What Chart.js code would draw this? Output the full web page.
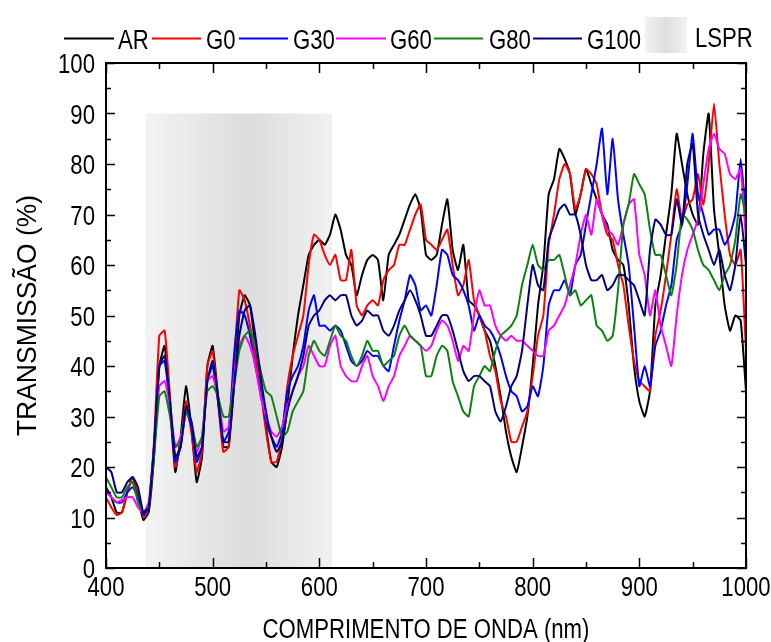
<!DOCTYPE html>
<html>
<head>
<meta charset="utf-8">
<title>Transmissão</title>
<script src="https://cdn.jsdelivr.net/npm/chart.js@4.4.1/dist/chart.umd.min.js"></script>
<style>
  html, body { margin: 0; padding: 0; background: #fff; }
  canvas { display: block; }
</style>
</head>
<body>
<canvas id="chart" width="771" height="642"></canvas>
<script>
// wavelengths (nm), one sample every 5 nm
const wavelength = [
  400,405,410,415,420,425,430,435,440,445,450,455,460,465,470,475,480,485,490,495,
  500,505,510,515,520,525,530,535,540,545,550,555,560,565,570,575,580,585,590,595,
  600,605,610,615,620,625,630,635,640,645,650,655,660,665,670,675,680,685,690,695,
  700,705,710,715,720,725,730,735,740,745,750,755,760,765,770,775,780,785,790,795,
  800,805,810,815,820,825,830,835,840,845,850,855,860,865,870,875,880,885,890,895,
  900,905,910,915,920,925,930,935,940,945,950,955,960,965,970,975,980,985,990,995,
  1000
];

// transmission (%)
const arT = [
  16,14,11,11,15,18,14,9.5,11,22, 40,44,32,19,26,36,28,17,22,40,
  44,34,24,24,36,50,54,52,44,36, 28,21,20,24,32,42,50,56,62,64,
  65,64,66,70,67,62,60,54,58,61, 62,61,53,62,64,66,69,72,74,71,
  62,61,62,68,73,63,59,64,53,52, 50,47,45,40,34,27,22,19,24,30,
  40,52,60,74,77,83,81,78,70,74, 79,76,73,70,68,63,61,60,52,40,
  33,30,35,52,58,66,74,86,80,74, 70,68,82,90,71,62,52,47,50,49,
  35
];
const g0T = [
  14,12,10.5,11,15,18,15,10,12,25, 46,47,34,20,25,33,27,19,23,40,
  43,33,23,24,40,55,53,48,42,35, 27,21,21,26,36,42,46,50,60,66,
  65,62,60,62,57,57,63,52,50,52, 53,52,57,59,60,64,64,67,70,72,
  65,64,63,65,67,60,54,56,61,53, 50,47,42,39,33,30,25,25,28,31,
  38,46,50,64,70,77,80,78,71,74, 79,78,76,70,66,65,60,56,48,41,
  37,36,35,46,51,58,66,75,69,72, 73,78,72,80,92,80,70,62,60,63,
  43
];
const g30T = [
  16,14,13,13,15,16,14,10.5,12,24, 40,41,32,21,24,31,28,21,24,37,
  40,33,25,27,42,51,50,46,40,35, 29,26,24,27,35,38,40,44,51,54,
  48,48,47,48,47,44,41,40,41,43, 42,42,40,39,44,49,53,58,56,51,
  52,50,56,63,62,58,57,55,52,47, 50,48,47,45,42,38,35,34,31,32,
  36,34,40,52,55,55,57,54,60,62, 68,74,80,87,74,85,73,66,60,48,
  36,40,36,44,47,52,56,65,68,76, 86,74,70,66,67,67,64,66,70,81,
  70
];
const g60T = [
  15,14,13,13.5,14,14,12,11,13,24, 36,37,32,24,26,31,29,23,26,37,
  38,34,27,28,38,44,46,44,40,34, 30,27,26,28,32,35,38,40,44,42,
  40,40,44,46,40,38,37,37,40,42, 38,36,33,36,38,42,44,46,45,44,
  43,44,47,49,48,45,41,44,43,50, 55,52,52,48,46,45,46,45,45,44,
  43,42,42,47,48,50,52,56,60,66, 70,66,73,70,67,66,64,68,72,73,
  62,58,50,55,48,44,40,50,58,63, 66,69,76,83,86,83,82,78,77,79,
  65
];
const g80T = [
  18,16,14,14,16,17,13,11,12,22, 34,35,30,24,25,31,29,24,26,35,
  36,34,30,30,36,43,46,47,44,39, 35,34,30,26,27,31,33,35,42,45,
  43,42,45,48,46,45,42,40,42,45, 43,43,40,41,42,46,48,46,45,44,
  38,38,42,44,43,37,34,31,30,36, 38,40,39,43,46,47,48,50,56,60,
  64,60,59,61,61,62,58,54,55,52, 53,54,48,47,45,46,55,68,72,78,
  76,74,67,62,62,58,54,60,70,69, 67,63,60,59,57,55,58,60,65,74,
  70
];
const g100T = [
  20,19,15,15,17,18,16,11,12,24, 40,42,33,22,24,32,29,22,24,37,
  41,34,25,25,36,46,51,52,46,38, 31,26,23,25,31,35,38,42,48,50,
  51,53,54,53,54,54,50,48,49,51, 50,50,47,46,48,51,53,55,53,50,
  46,46,48,50,50,47,43,39,37,38, 38,37,36,31,29,32,36,38,43,52,
  60,56,55,65,68,71,72,70,70,66, 60,57,57,58,55,56,58,58,57,56,
  53,50,63,69,68,66,66,73,68,80, 84,70,66,63,60,63,58,55,60,70,
  60
];

const seriesNames = ["AR", "G0", "G30", "G60", "G80", "G100"];
const seriesValues = [arT, g0T, g30T, g60T, g80T, g100T];
const seriesColors = ["#000000", "#ff0000", "#0000ff", "#ff00ff", "#108010", "#00007f"];

// LSPR band (nm / %)
const lsprStart = 437;
const lsprEnd = 612;
const lsprTop = 90;

// Arial-Narrow look: Liberation Sans squeezed horizontally
const FONT = '"Liberation Sans", Arial, sans-serif';
const FS = 27;
const SQUEEZE = 0.82;

function narrowText(ctx, txt, x, y, align, rotated, squeeze) {
  ctx.save();
  ctx.translate(x, y);
  if (rotated) ctx.rotate(-Math.PI / 2);
  ctx.scale(squeeze || SQUEEZE, 1);
  ctx.textAlign = align;
  ctx.textBaseline = "alphabetic";
  ctx.fillText(txt, 0, 0);
  ctx.restore();
}

const datasets = seriesNames.map((name, i) => ({
  label: name,
  data: wavelength.map((w, j) => ({ x: w, y: seriesValues[i][j] })),
  borderColor: seriesColors[i],
  borderWidth: 2,
  pointRadius: 0,
  tension: 0.15,
  fill: false,
  order: seriesNames.length - i   // G100 on top, like the figure
}));

// gray LSPR band behind the curves
const bandPlugin = {
  id: "band",
  beforeDatasetsDraw(chart) {
    const { ctx, scales: { x, y } } = chart;
    const x1 = x.getPixelForValue(lsprStart);
    const x2 = x.getPixelForValue(lsprEnd);
    const y1 = y.getPixelForValue(lsprTop);
    const y2 = y.getPixelForValue(0);
    const g = ctx.createLinearGradient(x1, 0, x2, 0);
    g.addColorStop(0, "#f3f3f3");
    g.addColorStop(0.55, "#dcdcdc");
    g.addColorStop(1, "#f1f1f1");
    ctx.save();
    ctx.fillStyle = g;
    ctx.fillRect(x1, y1, x2 - x1, y2 - y1);
    ctx.restore();
  }
};

// frame with inward major/minor ticks on all four sides
const framePlugin = {
  id: "frame",
  afterDatasetsDraw(chart) {
    const { ctx, chartArea: a, scales: { x, y } } = chart;
    ctx.save();
    ctx.strokeStyle = "#000";
    ctx.lineWidth = 2;
    ctx.strokeRect(a.left, a.top, a.right - a.left, a.bottom - a.top);
    ctx.lineWidth = 1.5;
    ctx.beginPath();
    for (let v = 400; v <= 1000; v += 50) {
      const px = Math.round(x.getPixelForValue(v)) + 0.5;
      const len = v % 100 === 0 ? 10 : 6;
      ctx.moveTo(px, a.bottom); ctx.lineTo(px, a.bottom - len);
      ctx.moveTo(px, a.top); ctx.lineTo(px, a.top + len);
    }
    for (let v = 0; v <= 100; v += 5) {
      const py = Math.round(y.getPixelForValue(v)) + 0.5;
      const len = v % 10 === 0 ? 9 : 5;
      ctx.moveTo(a.left, py); ctx.lineTo(a.left + len, py);
      ctx.moveTo(a.right, py); ctx.lineTo(a.right - len, py);
    }
    ctx.stroke();
    ctx.restore();
  }
};

// tick labels and axis titles, placed from the scales
const labelsPlugin = {
  id: "labels",
  afterDraw(chart) {
    const { ctx, chartArea: a, scales: { x, y } } = chart;
    ctx.save();
    ctx.font = FS + "px " + FONT;
    ctx.fillStyle = "#000";
    x.ticks.forEach(t => narrowText(ctx, String(t.value), x.getPixelForValue(t.value), a.bottom + 28, "center"));
    y.ticks.forEach(t => narrowText(ctx, String(t.value), a.left - 11, y.getPixelForValue(t.value) + 10, "right"));
    narrowText(ctx, "COMPRIMENTO DE ONDA (nm)", (a.left + a.right) / 2, 638, "center");
    narrowText(ctx, "TRANSMISSÃO (%)", 36, (a.top + a.bottom) / 2, "center", true, 0.98);
    ctx.restore();
  }
};

// legend row across the top
const legendLines = [[64, 114], [152, 201], [239, 288], [336, 386], [434, 483], [533, 582]];
const legendText = [118, 206, 293, 390, 489, 587];
const legendPlugin = {
  id: "topLegend",
  afterDraw(chart) {
    const ctx = chart.ctx;
    const yMid = 38.5;
    ctx.save();
    ctx.font = FS + "px " + FONT;
    ctx.fillStyle = "#000";
    seriesNames.forEach((name, i) => {
      ctx.strokeStyle = seriesColors[i];
      ctx.lineWidth = 2;
      ctx.beginPath();
      ctx.moveTo(legendLines[i][0], yMid);
      ctx.lineTo(legendLines[i][1], yMid);
      ctx.stroke();
      narrowText(ctx, name, legendText[i], 49, "left");
    });
    const g = ctx.createLinearGradient(645, 0, 687, 0);
    g.addColorStop(0, "#f2f2f2");
    g.addColorStop(0.5, "#dedede");
    g.addColorStop(1, "#f2f2f2");
    ctx.fillStyle = g;
    ctx.fillRect(645, 17, 42, 36);
    ctx.fillStyle = "#000";
    narrowText(ctx, "LSPR", 695, 47, "left");
    ctx.restore();
  }
};

new Chart(document.getElementById("chart").getContext("2d"), {
  type: "line",
  data: { datasets },
  options: {
    responsive: false,
    animation: false,
    layout: { padding: { top: 63, right: 25, left: 0, bottom: 0 } },
    plugins: {
      legend: { display: false },
      tooltip: { enabled: false }
    },
    scales: {
      x: {
        type: "linear",
        min: 400,
        max: 1000,
        afterFit: s => { s.height = 74; },
        ticks: { stepSize: 100, display: false },
        grid: { display: false },
        border: { display: false }
      },
      y: {
        min: 0,
        max: 100,
        afterFit: s => { s.width = 106; },
        ticks: { stepSize: 10, display: false },
        grid: { display: false },
        border: { display: false }
      }
    }
  },
  plugins: [bandPlugin, framePlugin, labelsPlugin, legendPlugin]
});
</script>
</body>
</html>
